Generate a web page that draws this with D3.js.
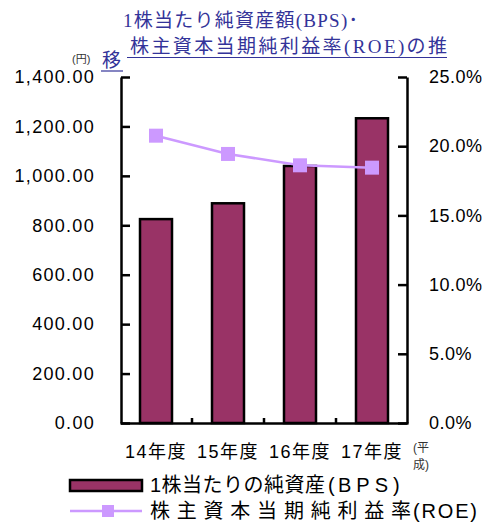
<!DOCTYPE html>
<html><head><meta charset="utf-8">
<script src="https://cdn.jsdelivr.net/npm/d3@7"></script>
<style>
body{margin:0;background:#fff;}
svg{font-family:"Liberation Sans","Noto Sans CJK JP",sans-serif;}
</style></head>
<body><svg id="c" width="484" height="523"></svg>
<script>
const categories = ["14年度","15年度","16年度","17年度"];
const bpsValues = [825, 889, 1040, 1233];
const roeValues = [0.2076, 0.1944, 0.1862, 0.1845];
const leftTicks = [0,200,400,600,800,1000,1200,1400];
const rightTicks = [0,0.05,0.10,0.15,0.20,0.25];
const titleLines = ["1株当たり純資産額(BPS)･","株主資本当期純利益率(ROE)の推","移"];
const legendLabels = [["1株当たりの純資産","(","BPS",")"],["株主資本当期純利益率","(ROE)"]];
const yUnit = "(円)";
const xUnit = ["(平","成)"];

const svg = d3.select("#c");
const L = 121, R = 407, T = 77, B = 423;
const x = d3.scaleBand().domain(categories).range([120, 408]);
const yL = d3.scaleLinear().domain([0,1400]).range([B,T]);
const yR = d3.scaleLinear().domain([0,0.25]).range([B,T]);
const barW = 32;
const barColor = "#993366", lineColor = "#cc99ff", titleColor = "#333399";
const sans = '"Liberation Sans","Noto Sans CJK JP",sans-serif';
const serif = '"Liberation Serif","Noto Sans CJK JP",serif';

// bars
svg.append("g").selectAll("rect").data(bpsValues).join("rect")
  .attr("x",(d,i)=>x(categories[i])+x.bandwidth()/2-barW/2)
  .attr("width",barW)
  .attr("y",d=>yL(d))
  .attr("height",d=>B-yL(d))
  .attr("fill",barColor).attr("stroke","#000").attr("stroke-width",2.5);

// left axis
const gl = svg.append("g").attr("transform",`translate(${L},0)`)
  .call(d3.axisLeft(yL).tickValues(leftTicks).tickSizeInner(-9).tickSizeOuter(0).tickPadding(26).tickFormat(d3.format(",.2f")));
gl.selectAll("path,line").attr("stroke","#000").attr("stroke-width",2.5);
gl.selectAll("text").style("font-size","18px").style("letter-spacing","1.3px").attr("fill","#000")
  .style("font-family",sans);

// right axis
const gr = svg.append("g").attr("transform",`translate(${R},0)`)
  .call(d3.axisRight(yR).tickValues(rightTicks).tickSizeInner(-9).tickSizeOuter(0).tickPadding(22).tickFormat(d3.format(".1%")));
gr.selectAll("path,line").attr("stroke","#000").attr("stroke-width",2.5);
gr.selectAll("text").style("font-size","18px").style("letter-spacing","0.5px").attr("fill","#000")
  .style("font-family",sans);

// bottom axis
const gb = svg.append("g").attr("transform",`translate(0,${B})`)
  .call(d3.axisBottom(x).tickSize(0).tickPadding(0));
gb.select("path").attr("stroke","#000").attr("stroke-width",2.5);
gb.selectAll("text").style("font-size","18px").style("letter-spacing","1.5px").attr("fill","#000")
  .style("font-family",sans).attr("y",35).attr("dy",0);
// boundary ticks
svg.append("g").selectAll("line").data(categories.slice(1)).join("line")
  .attr("x1",d=>x(d)).attr("x2",d=>x(d)).attr("y1",B).attr("y2",B-5)
  .attr("stroke","#000").attr("stroke-width",2.5);

// ROE line
const line = d3.line().x((d,i)=>x(categories[i])+x.bandwidth()/2).y(d=>yR(d));
svg.append("path").datum(roeValues).attr("d",line)
  .attr("fill","none").attr("stroke",lineColor).attr("stroke-width",2.5);
svg.append("g").selectAll("rect").data(roeValues).join("rect")
  .attr("x",(d,i)=>x(categories[i])+x.bandwidth()/2-7).attr("y",d=>yR(d)-7)
  .attr("width",14).attr("height",14).attr("fill",lineColor);

// title
svg.append("text").text(titleLines[0]).attr("x",123).attr("y",27)
  .style("font-size","19px").style("font-family",serif).attr("fill",titleColor)
  .attr("textLength",235).attr("lengthAdjust","spacing");
svg.append("text").text(titleLines[1]).attr("x",130).attr("y",53)
  .style("font-size","19px").style("font-family",serif).attr("fill",titleColor)
  .attr("textLength",317).attr("lengthAdjust","spacing");
svg.append("line").attr("x1",127).attr("x2",447).attr("y1",57.5).attr("y2",57.5)
  .attr("stroke",titleColor).attr("stroke-width",1.2);
svg.append("text").text(titleLines[2]).attr("x",102).attr("y",67)
  .style("font-size","19px").style("font-family",serif).attr("fill",titleColor);
svg.append("line").attr("x1",101).attr("x2",123).attr("y1",71).attr("y2",71)
  .attr("stroke",titleColor).attr("stroke-width",1.2);

// units
svg.append("text").text(yUnit).attr("x",72).attr("y",63).style("font-size","11px").attr("fill","#333");
svg.selectAll(".xu").data(xUnit).join("text").attr("class","xu").text(d=>d)
  .attr("x",413).attr("y",(d,i)=>452+i*17).style("font-size","12px").attr("fill","#333");

// legend
svg.append("rect").attr("x",70).attr("y",480).attr("width",72).attr("height",11)
  .attr("fill",barColor).attr("stroke","#000").attr("stroke-width",2.5);
svg.append("line").attr("x1",70).attr("x2",142).attr("y1",511).attr("y2",511)
  .attr("stroke",lineColor).attr("stroke-width",2.5);
svg.append("rect").attr("x",102).attr("y",505).attr("width",12).attr("height",12).attr("fill",lineColor);
// [x, width] for each part
const legPos = [[[150,175],[328,8],[338,50],[393,8]],[[150,261],[413,64]]];
const legY = [492, 518];
legendLabels.forEach((parts,i)=>{
  parts.forEach((p,j)=>{
    const t = svg.append("text").text(p).attr("x",legPos[i][j][0]).attr("y",legY[i])
      .style("font-size","20px").attr("fill","#000");
    if (p.length>1) t.attr("textLength",legPos[i][j][1]).attr("lengthAdjust","spacing");
  });
});
</script></body></html>
